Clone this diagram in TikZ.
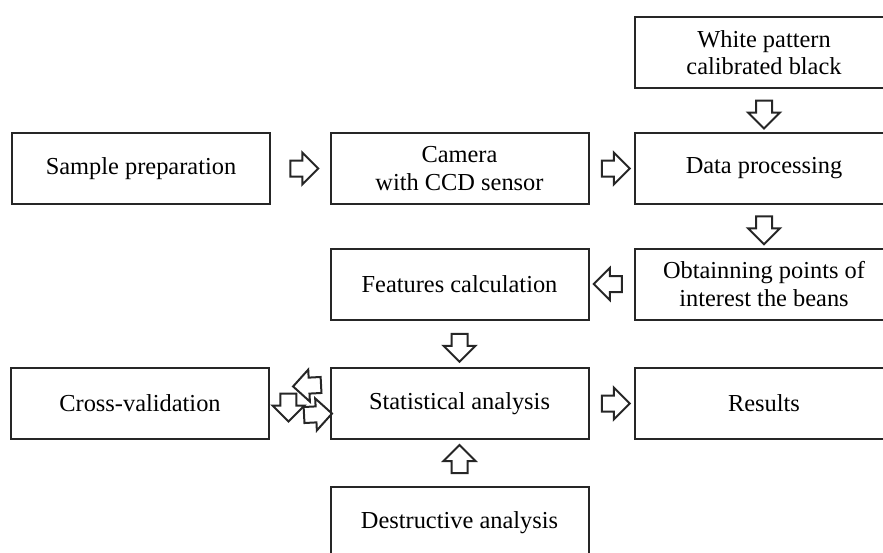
\documentclass[tikz,border=0pt]{standalone}
\usepackage{fontspec}
\setmainfont{Liberation Serif}
\usetikzlibrary{shapes.arrows,calc}

\begin{document}
\begin{tikzpicture}[x=0.5pt, y=-0.5pt,
        every node/.style={font=\fontsize{12.2}{13.6}\selectfont},
        box/.style={draw=black!85, line width=1pt, minimum width=129pt, minimum height=35.5pt, align=center, inner sep=0pt},
        blockarrow/.style={single arrow, draw=black!85, line width=1pt, inner sep=3.5pt,
            single arrow head extend=4pt, single arrow tip angle=90, minimum height=14pt, minimum width=15pt}]

        \clip (0,0) rectangle (883,552);

        \node[box] (white) at (764,52.5) {White pattern\\ calibrated black};
        \node[box] (sample) at (141,168.5) {Sample preparation};
        \node[box] (camera) at (459.5,168.5) {Camera\\ with CCD sensor};
        \node[box] (data) at (764,168.5) {Data processing};
        \node[box] (features) at (459.5,284) {Features calculation};
        \node[box] (obtain) at (764,284) {Obtainning points of\\ interest the beans};
        \node[box] (cross) at (140,403.5) {Cross-validation};
        \node[box] (stat) at (459.5,403.5) {Statistical analysis};
        \node[box] (results) at (764,403.5) {Results};
        \node[box] (destr) at (459.5,522.5) {Destructive analysis};

        \node[blockarrow] (a1) at ($(sample.east)!0.5!(camera.west)$) {};
        \node[blockarrow] (a2) at ($(camera.east)!0.5!(data.west)$) {};
        \node[blockarrow, rotate=-90] (a3) at ($(white.south)!0.5!(data.north)$) {};
        \node[blockarrow, rotate=-90] (a4) at ($(data.south)!0.5!(obtain.north)$) {};
        \node[blockarrow, rotate=180] (a5) at ($(obtain.west)!0.5!(features.east)$) {};
        \node[blockarrow, rotate=-90] (a6) at ($(features.south)!0.5!(stat.north)$) {};
        \node[blockarrow] (a7) at ($(stat.east)!0.5!(results.west)$) {};
        \node[blockarrow, rotate=90] (a8) at ($(destr.north)!0.5!(stat.south)$) {};
        \node[blockarrow, rotate=183] (a9) at ($($(cross.east)!0.69!(stat.west)$)+(0,-18)$) {};
        \node[blockarrow, rotate=-90] (a10) at ($(cross.east)!0.31!(stat.west)$) {};
        \node[blockarrow, rotate=3] (a11) at ($($(cross.east)!0.74!(stat.west)$)+(0,11)$) {};
\end{tikzpicture}
\end{document}
